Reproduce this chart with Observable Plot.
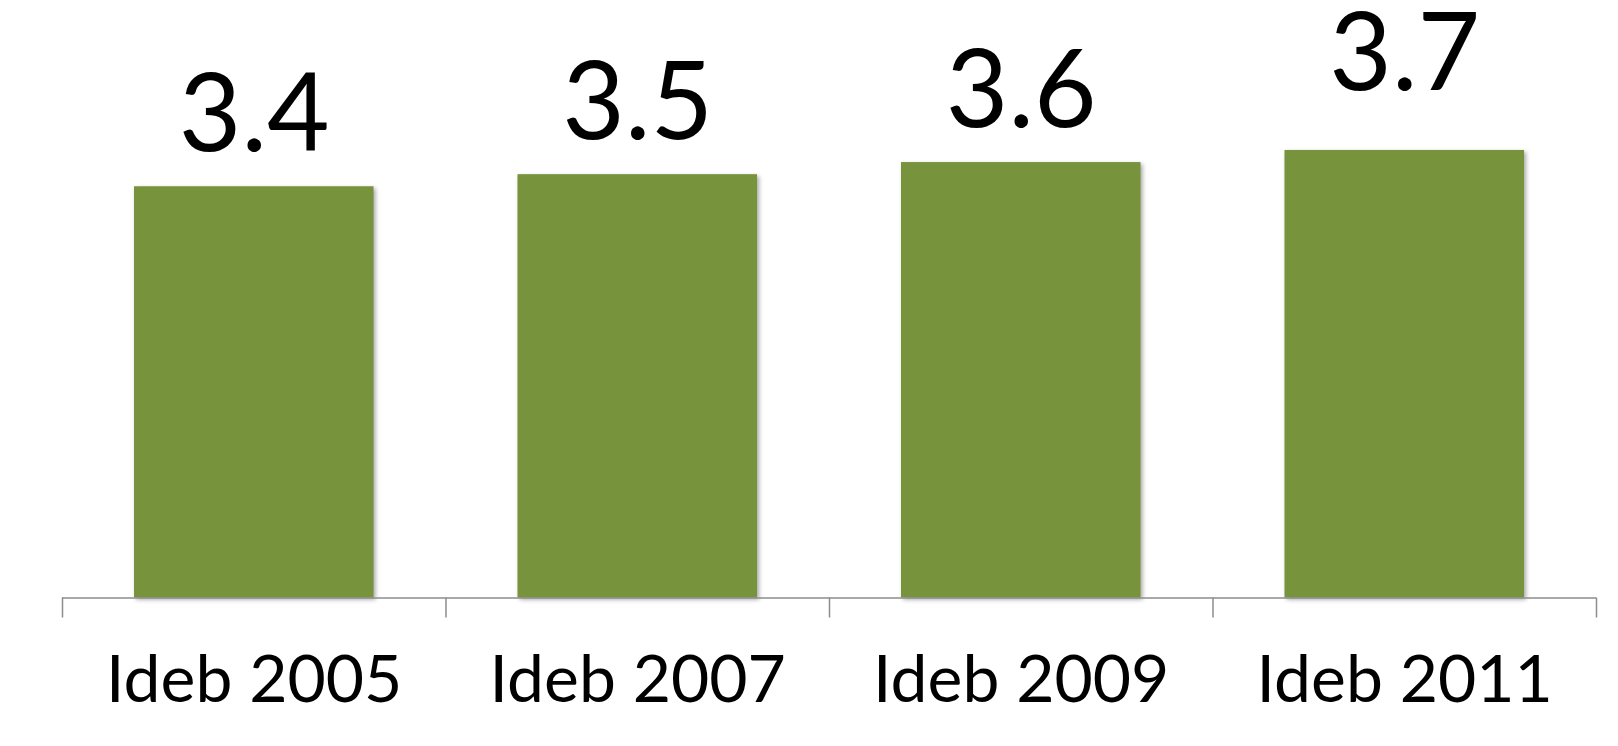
<!DOCTYPE html>
<html>
<head>
<meta charset="utf-8">
<script src="https://cdn.jsdelivr.net/npm/d3@7"></script>
<script src="https://cdn.jsdelivr.net/npm/@observablehq/plot@0.6"></script>
<style>
  html, body { margin: 0; padding: 0; background: #fff; }
  #chart svg { display: block; }
</style>
</head>
<body>
<div id="chart"></div>
<script>
const categories = ["Ideb 2005", "Ideb 2007", "Ideb 2009", "Ideb 2011"];
const values = [3.4, 3.5, 3.6, 3.7];
const labels = ["3.4", "3.5", "3.6", "3.7"];

const data = categories.map((c, i) => ({i, category: c, value: values[i], label: labels[i]}));
const boundaries = d3.range(categories.length + 1);
const centers = categories.map((c, i) => i + 0.5);

const FONT = "Lato, 'Open Sans', sans-serif";
const GREEN = "#77933C";
const GRAY = "#8c8c8c";

const chart = Plot.plot({
  width: 1618,
  height: 746,
  marginLeft: 62,
  marginRight: 22,
  marginTop: 0,
  marginBottom: 148.5,
  style: {fontFamily: FONT, background: "#fff", color: "#000"},
  x: {type: "linear", domain: [0, categories.length], axis: null, label: null},
  y: {domain: [0, 4.94], axis: null, label: null},
  marks: [
    Plot.rectY(data, {x1: "i", x2: d => d.i + 1, y: "value", insetLeft: 72, insetRight: 72, fill: GREEN}),
    Plot.ruleY([0], {stroke: GRAY, strokeWidth: 1.5}),
    Plot.axisX({ticks: boundaries, tickSize: 20, tickFormat: () => "", label: null, stroke: GRAY, strokeWidth: 1.5}),
    Plot.axisX({ticks: centers, tickSize: 0, tickPadding: 57, label: null, tickFormat: x => categories[Math.floor(x)], fontSize: 66, fill: "#000"}),
    Plot.text(data, {filter: d => d.i < 3, x: d => d.i + 0.5, y: "value", text: "label", dy: -36, lineAnchor: "bottom", fontSize: 108, fill: "#000"}),
    Plot.text(data, {filter: d => d.i === 3, x: d => d.i + 0.5, y: "value", text: "label", dy: -60, lineAnchor: "bottom", fontSize: 108, fill: "#000"})
  ]
});

d3.select(chart).selectAll("g[aria-label=rect] rect")
  .style("filter", "drop-shadow(2px 2px 2px rgba(0,0,0,0.35))");

document.getElementById("chart").appendChild(chart);
</script>
</body>
</html>
